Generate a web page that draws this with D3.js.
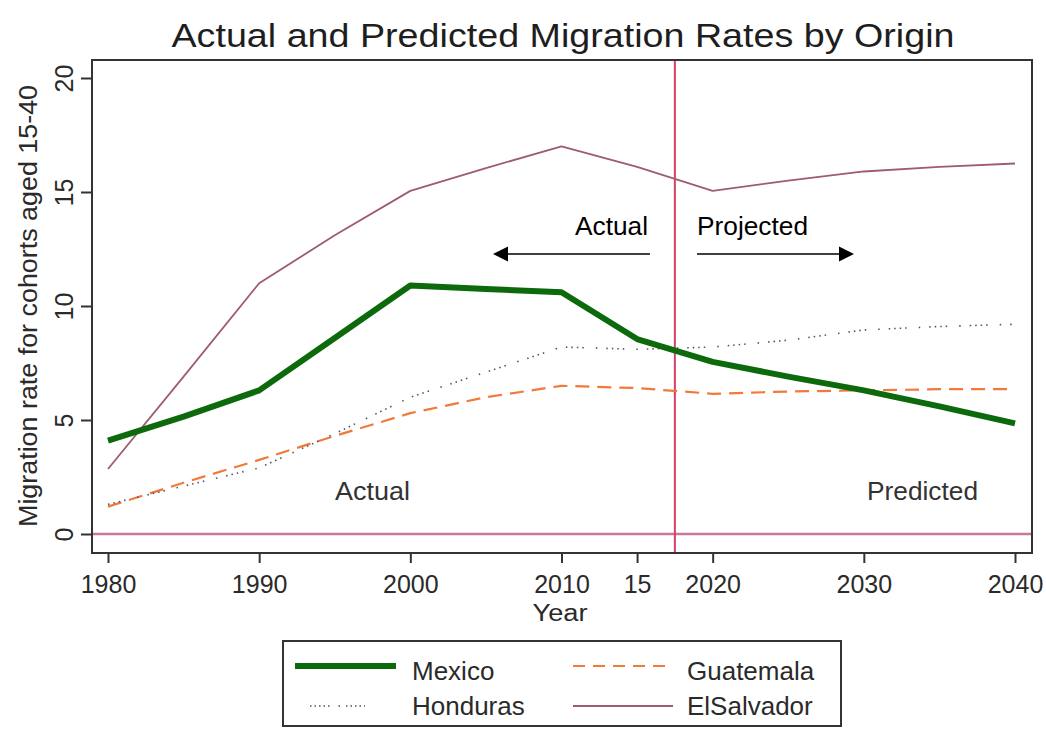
<!DOCTYPE html>
<html>
<head>
<meta charset="utf-8">
<script src="https://cdn.jsdelivr.net/npm/d3@7"></script>
<style>
  html, body { margin: 0; padding: 0; background: #fff; }
  svg { display: block; }
  text { font-family: "Liberation Sans", Arial, sans-serif; }
</style>
</head>
<body>
<svg id="chart" width="1046" height="729"></svg>
<script>
// ---- data ----
const years      = [1980, 1985, 1990, 1995, 2000, 2005, 2010, 2015, 2020, 2025, 2030, 2035, 2040];
const mexico     = [4.1, 5.15, 6.3, 8.6, 10.9, 10.75, 10.6, 8.55, 7.55, 6.9, 6.3, 5.6, 4.85];
const honduras   = [1.3, 2.1, 2.9, 4.4, 6.0, 7.1, 8.2, 8.1, 8.2, 8.5, 8.95, 9.1, 9.2];
const guatemala  = [1.2, 2.25, 3.25, 4.3, 5.3, 6.0, 6.5, 6.4, 6.15, 6.25, 6.3, 6.35, 6.35];
const elSalvador = [2.85, 6.9, 11.0, 13.1, 15.05, 16.05, 17.0, 16.1, 15.05, 15.5, 15.9, 16.1, 16.25];

const seriesNames = ["Mexico", "Guatemala", "Honduras", "ElSalvador"];
const xTickValues = [1980, 1990, 2000, 2010, 2015, 2020, 2030, 2040];
const xTickLabels = ["1980", "1990", "2000", "2010", "15", "2020", "2030", "2040"];
const yTickValues = [0, 5, 10, 15, 20];
const cutoffYear  = 2017.5;

const title  = "Actual and Predicted Migration Rates by Origin";
const yTitle = "Migration rate for cohorts aged 15-40";
const xTitle = "Year";

// ---- styles ----
const styles = {
  Mexico:     { color: "#0c690c", width: 6,   dash: null },
  Guatemala:  { color: "#f07a3a", width: 2.2, dash: "14,8" },
  Honduras:   { color: "#4c5566", width: 1.6, dash: "1.5,4,1.5,4,1.5,4,1.5,12,1.5,9" },
  ElSalvador: { color: "#9e5c6c", width: 1.8, dash: null }
};
const seriesData = {
  Mexico: mexico, Guatemala: guatemala, Honduras: honduras, ElSalvador: elSalvador
};

const svg = d3.select("#chart");
const frame = { left: 92, right: 1032, top: 60, bottom: 553 };

const x = d3.scaleLinear().domain([1980, 2040]).range([108, 1015]);
const y = d3.scaleLinear().domain([0, 20]).range([534, 78]);

svg.append("rect").attr("width", 1046).attr("height", 729).attr("fill", "#fff");

// Title
svg.append("text")
  .attr("x", 563).attr("y", 47)
  .attr("text-anchor", "middle")
  .attr("font-size", 33)
  .attr("fill", "#1e1e1e")
  .attr("textLength", 783).attr("lengthAdjust", "spacingAndGlyphs")
  .text(title);

// Reference lines
svg.append("line")
  .attr("x1", frame.left).attr("x2", frame.right)
  .attr("y1", y(0)).attr("y2", y(0))
  .attr("stroke", "#c8789a").attr("stroke-width", 2.5);

svg.append("line")
  .attr("x1", x(cutoffYear)).attr("x2", x(cutoffYear))
  .attr("y1", frame.top).attr("y2", frame.bottom)
  .attr("stroke", "#d6406a").attr("stroke-width", 2);

// Series
const line = d3.line()
  .x((d, i) => x(years[i]))
  .y(d => y(d));

["ElSalvador", "Guatemala", "Honduras", "Mexico"].forEach(name => {
  const s = styles[name];
  svg.append("path")
    .datum(seriesData[name])
    .attr("d", line)
    .attr("fill", "none")
    .attr("stroke", s.color)
    .attr("stroke-width", s.width)
    .attr("stroke-linejoin", "round")
    .attr("stroke-dasharray", s.dash);
});

// Frame
svg.append("rect")
  .attr("x", frame.left).attr("y", frame.top)
  .attr("width", frame.right - frame.left).attr("height", frame.bottom - frame.top)
  .attr("fill", "none").attr("stroke", "#333").attr("stroke-width", 2);

// Y axis
const yAxis = svg.append("g")
  .attr("transform", `translate(${frame.left},0)`)
  .call(d3.axisLeft(y).tickValues(yTickValues).tickSize(11).tickSizeOuter(0));
yAxis.select(".domain").remove();
yAxis.selectAll(".tick line").attr("stroke", "#333").attr("stroke-width", 2);
yAxis.selectAll(".tick text")
  .attr("x", null).attr("dy", null)
  .attr("transform", "translate(-19,0) rotate(-90)")
  .attr("text-anchor", "middle")
  .attr("font-size", 25)
  .attr("font-family", "Liberation Sans, Arial, sans-serif")
  .attr("fill", "#2a2a2a");

// X axis
const xAxis = svg.append("g")
  .attr("transform", `translate(0,${frame.bottom})`)
  .call(d3.axisBottom(x).tickValues(xTickValues)
    .tickFormat((d, i) => xTickLabels[i]).tickSize(10).tickSizeOuter(0));
xAxis.select(".domain").remove();
xAxis.selectAll(".tick line").attr("stroke", "#333").attr("stroke-width", 2);
xAxis.selectAll(".tick text")
  .attr("y", 40).attr("dy", null)
  .attr("font-size", 25)
  .attr("font-family", "Liberation Sans, Arial, sans-serif")
  .attr("fill", "#2a2a2a");

// Axis titles
svg.append("text")
  .attr("transform", "translate(37,306) rotate(-90)")
  .attr("text-anchor", "middle")
  .attr("font-size", 25)
  .attr("fill", "#2a2a2a")
  .attr("textLength", 442).attr("lengthAdjust", "spacingAndGlyphs")
  .text(yTitle);

svg.append("text")
  .attr("x", 560).attr("y", 621)
  .attr("text-anchor", "middle")
  .attr("font-size", 23)
  .attr("fill", "#2a2a2a")
  .attr("textLength", 55).attr("lengthAdjust", "spacingAndGlyphs")
  .text(xTitle);

// In-plot Stata labels
svg.append("text")
  .attr("x", 335).attr("y", 500)
  .attr("font-size", 26).attr("fill", "#333")
  .attr("textLength", 75).attr("lengthAdjust", "spacingAndGlyphs")
  .text("Actual");
svg.append("text")
  .attr("x", 867).attr("y", 500)
  .attr("font-size", 26).attr("fill", "#333")
  .attr("textLength", 111).attr("lengthAdjust", "spacingAndGlyphs")
  .text("Predicted");

// Overlay annotations (Calibri-like)
const annFont = "Lato, 'Open Sans', sans-serif";
svg.append("text")
  .attr("x", 575).attr("y", 235)
  .attr("font-family", annFont).attr("font-size", 25).attr("fill", "#000")
  .attr("textLength", 73).attr("lengthAdjust", "spacingAndGlyphs")
  .text("Actual");
svg.append("text")
  .attr("x", 697).attr("y", 235)
  .attr("font-family", annFont).attr("font-size", 25).attr("fill", "#000")
  .attr("textLength", 111).attr("lengthAdjust", "spacingAndGlyphs")
  .text("Projected");

// Arrows
const arrowY = 254;
svg.append("line").attr("x1", 650).attr("x2", 506).attr("y1", arrowY).attr("y2", arrowY)
  .attr("stroke", "#000").attr("stroke-width", 1.5);
svg.append("path").attr("d", `M493,${arrowY} L508,${arrowY - 7.5} L508,${arrowY + 7.5} Z`).attr("fill", "#000");
svg.append("line").attr("x1", 697).attr("x2", 840).attr("y1", arrowY).attr("y2", arrowY)
  .attr("stroke", "#000").attr("stroke-width", 1.5);
svg.append("path").attr("d", `M854,${arrowY} L839,${arrowY - 7.5} L839,${arrowY + 7.5} Z`).attr("fill", "#000");

// Legend
const legend = svg.append("g");
legend.append("rect")
  .attr("x", 283).attr("y", 641).attr("width", 558).attr("height", 85)
  .attr("fill", "#fff").attr("stroke", "#333").attr("stroke-width", 2);

const legendPos = {
  Mexico:     { lx1: 295, lx2: 396, ly: 666, tx: 412, ty: 680 },
  Guatemala:  { lx1: 573, lx2: 673, ly: 666, tx: 687, ty: 680 },
  Honduras:   { lx1: 310, lx2: 365, ly: 706, tx: 412, ty: 715 },
  ElSalvador: { lx1: 573, lx2: 673, ly: 706, tx: 687, ty: 715 }
};
seriesNames.forEach(name => {
  const s = styles[name], p = legendPos[name];
  legend.append("line")
    .attr("x1", p.lx1).attr("x2", p.lx2).attr("y1", p.ly).attr("y2", p.ly)
    .attr("stroke", s.color).attr("stroke-width", s.width)
    .attr("stroke-dasharray", name === "Guatemala" ? "12,8" : (name === "Honduras" ? "1.5,3,1.5,3,1.5,3,1.5,3,1.5,9,1.5,6" : s.dash));
  legend.append("text")
    .attr("x", p.tx).attr("y", p.ty)
    .attr("font-size", 26).attr("fill", "#2a2a2a")
    .text(name);
});
</script>
</body>
</html>
